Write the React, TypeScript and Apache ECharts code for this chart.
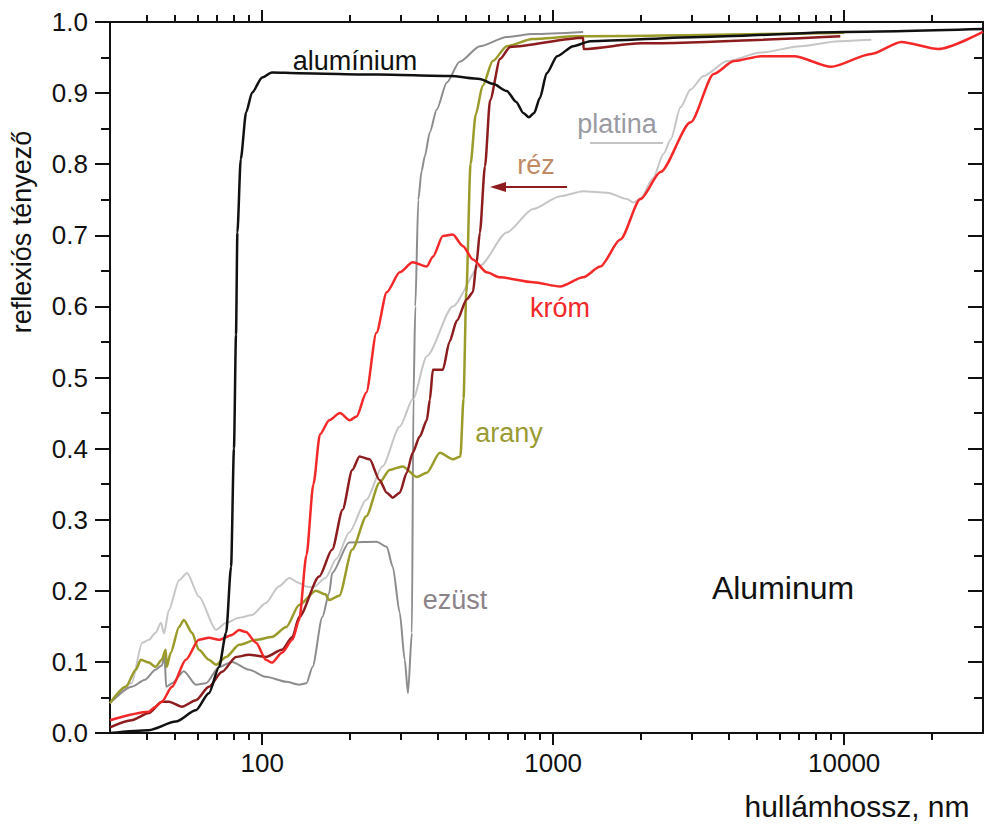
import React, { useEffect, useRef } from "react";
import * as echarts from "echarts";

// wavelength (nm), reflectance
const aluminium: [number, number][] = [
  [30, 0.0], [40.8, 0.004], [50.5, 0.016], [59.2, 0.032], [65.6, 0.056], [71.1, 0.093],
  [75.2, 0.141], [78.2, 0.234], [80, 0.4], [81.3, 0.56], [82.2, 0.704], [84.4, 0.807],
  [88.1, 0.873], [92.4, 0.901], [100, 0.922], [108, 0.929], [134, 0.928], [250, 0.926],
  [442, 0.924], [560, 0.92], [621, 0.913], [693, 0.903], [745, 0.888], [790, 0.872],
  [825, 0.866], [860, 0.872], [900, 0.893], [950, 0.928], [1032, 0.952], [1172, 0.966],
  [1342, 0.973], [3214, 0.979], [10000, 0.986], [30000, 0.99],
];

const ezust: [number, number][] = [
  [30, 0.042], [35.6, 0.065], [39.6, 0.075], [43, 0.089], [45.2, 0.095], [46.2, 0.107],
  [46.8, 0.065], [49, 0.07], [53.8, 0.087], [59.2, 0.068], [64.1, 0.07], [71.1, 0.093],
  [78.8, 0.1], [90.2, 0.089], [103, 0.079], [121, 0.072], [134, 0.068], [142, 0.07],
  [149, 0.093], [161, 0.163], [170, 0.197], [174, 0.225], [199, 0.268], [247, 0.269],
  [268, 0.262], [281, 0.234], [297, 0.169], [309, 0.103], [317, 0.056], [327, 0.141],
  [331, 0.47], [336, 0.6], [344, 0.75], [353, 0.79], [362, 0.811], [377, 0.845],
  [398, 0.877], [431, 0.915], [477, 0.944], [560, 0.966], [693, 0.979], [853, 0.983],
  [1268, 0.986],
];

const platina: [number, number][] = [
  [30, 0.042], [35.6, 0.07], [38.7, 0.127], [40.8, 0.131], [43, 0.141], [44.9, 0.155],
  [46, 0.14], [47.8, 0.173], [51.8, 0.215], [55.2, 0.225], [60.6, 0.192], [69.4, 0.145],
  [75.2, 0.155], [83.3, 0.162], [92.4, 0.166], [103, 0.183], [114, 0.206], [124, 0.218],
  [134, 0.211], [142, 0.206], [150, 0.205], [165, 0.218], [180, 0.245], [199, 0.282],
  [228, 0.328], [259, 0.375], [297, 0.431], [330, 0.47], [368, 0.53], [452, 0.6],
  [560, 0.657], [693, 0.704], [853, 0.737], [1057, 0.755], [1268, 0.762], [1534, 0.76],
  [1796, 0.751], [1884, 0.746], [2000, 0.752], [2200, 0.78], [2400, 0.815], [2536, 0.835],
  [2740, 0.88], [2967, 0.905], [3286, 0.924], [3964, 0.945], [5176, 0.957], [7080, 0.966],
  [9540, 0.973], [12400, 0.975],
];

const arany: [number, number][] = [
  [30, 0.042], [34, 0.065], [36.8, 0.089], [38.3, 0.103], [40.8, 0.099], [43, 0.093],
  [45.2, 0.103], [46.6, 0.117], [47, 0.093], [48.5, 0.113], [51.8, 0.149], [53.8, 0.159],
  [57.4, 0.141], [60.6, 0.117], [65.6, 0.103], [69.4, 0.096], [75.2, 0.107], [83.3, 0.124],
  [95.3, 0.131], [108, 0.135], [121, 0.149], [134, 0.18], [153, 0.2], [165, 0.195],
  [170, 0.187], [184, 0.193], [204, 0.258], [228, 0.305], [253, 0.352], [274, 0.37],
  [304, 0.375], [340, 0.36], [368, 0.366], [408, 0.394], [452, 0.385], [480, 0.389],
  [492, 0.47], [503, 0.62], [520, 0.8], [542, 0.87], [572, 0.91], [620, 0.945],
  [693, 0.966], [850, 0.976], [1200, 0.98], [10000, 0.985],
];

const rez: [number, number][] = [
  [30, 0.008], [35.6, 0.018], [40.8, 0.028], [45.2, 0.044], [47.8, 0.044], [53, 0.037],
  [59.2, 0.046], [65.6, 0.065], [72.8, 0.086], [81.3, 0.107], [90.2, 0.11], [103, 0.107],
  [117, 0.117], [127, 0.135], [134, 0.163], [157, 0.22], [174, 0.258], [189, 0.314],
  [204, 0.37], [216, 0.389], [234, 0.385], [253, 0.356], [268, 0.338], [281, 0.331],
  [297, 0.338], [314, 0.366], [329, 0.394], [348, 0.417], [368, 0.44], [377, 0.469],
  [386, 0.511], [418, 0.511], [440, 0.55], [467, 0.58], [505, 0.61], [530, 0.62],
  [545, 0.66], [560, 0.704], [583, 0.797], [607, 0.89], [657, 0.948], [711, 0.965],
  [1268, 0.978], [1272, 0.962], [2000, 0.97], [9700, 0.98],
];

const krom: [number, number][] = [
  [30, 0.018], [40.8, 0.03], [43, 0.037], [45.2, 0.044], [49, 0.065], [54.7, 0.103],
  [60.6, 0.131], [65.6, 0.134], [71.1, 0.131], [78.8, 0.138], [83.3, 0.145], [88, 0.142],
  [95.3, 0.127], [103, 0.103], [108, 0.099], [117, 0.113], [127, 0.131], [134, 0.159],
  [142, 0.25], [150, 0.35], [158, 0.42], [170, 0.44], [185, 0.45], [200, 0.44],
  [211, 0.445], [228, 0.479], [247, 0.563], [268, 0.62], [297, 0.648], [329, 0.662],
  [368, 0.656], [386, 0.67], [418, 0.699], [452, 0.701], [489, 0.685], [530, 0.666],
  [591, 0.648], [656, 0.641], [853, 0.634], [1057, 0.628], [1268, 0.641], [1452, 0.656],
  [1702, 0.694], [1995, 0.751], [2339, 0.789], [2967, 0.859], [3565, 0.927], [4178, 0.945],
  [5176, 0.952], [6729, 0.952], [9020, 0.937], [12390, 0.955], [15730, 0.972],
  [21090, 0.962], [30000, 0.986],
];

const xMajorTicks = [100, 1000, 10000];
const xMinorTicks = [
  40, 50, 60, 70, 80, 90, 200, 300, 400, 500, 600, 700, 800, 900,
  2000, 3000, 4000, 5000, 6000, 7000, 8000, 9000, 20000,
];

const FONT = "'Liberation Sans', Arial, sans-serif";
const AXIS = "#111111";

export default function App() {
  const ref = useRef<HTMLDivElement>(null);
  useEffect(() => {
    if (!ref.current) return;
    const chart = echarts.init(ref.current, undefined, { renderer: "svg" });
    const lineAxis = { show: true, lineStyle: { color: AXIS, width: 2 } };
    const baseX = {
      type: "log",
      logBase: 10,
      min: 30,
      max: 30000,
      gridIndex: 0,
      splitLine: { show: false },
      minorSplitLine: { show: false },
    };
    const mkLine = (data: [number, number][], color: string, width: number, z: number) => ({
      type: "line",
      data,
      xAxisIndex: 0,
      yAxisIndex: 0,
      showSymbol: false,
      symbol: "none",
      smooth: 0.25,
      smoothMonotone: "x",
      z,
      lineStyle: { color, width },
    });
    chart.setOption({
      animation: false,
      backgroundColor: "#ffffff",
      grid: { left: 110, right: 10, top: 22, bottom: 96, containLabel: false },
      xAxis: [
        {
          ...baseX,
          position: "bottom",
          axisLine: lineAxis,
          axisTick: { show: true, customValues: xMajorTicks, length: 12, lineStyle: { color: AXIS, width: 2 } },
          axisLabel: {
            show: true,
            customValues: xMajorTicks,
            formatter: (v: number) => String(Math.round(v)),
            fontSize: 26,
            color: AXIS,
            fontFamily: FONT,
            margin: 17,
          },
        },
        {
          ...baseX,
          position: "bottom",
          axisLine: { show: false },
          axisTick: { show: true, customValues: xMinorTicks, length: 7, lineStyle: { color: AXIS, width: 2 } },
          axisLabel: { show: false },
        },
        {
          ...baseX,
          position: "top",
          axisLine: lineAxis,
          axisTick: { show: true, customValues: xMajorTicks, length: 12, lineStyle: { color: AXIS, width: 2 } },
          axisLabel: { show: false },
        },
        {
          ...baseX,
          position: "top",
          axisLine: { show: false },
          axisTick: { show: true, customValues: xMinorTicks, length: 7, lineStyle: { color: AXIS, width: 2 } },
          axisLabel: { show: false },
        },
      ],
      yAxis: [
        {
          type: "value",
          min: 0,
          max: 1,
          interval: 0.1,
          position: "left",
          axisLine: lineAxis,
          axisTick: { show: true, length: 15, lineStyle: { color: AXIS, width: 2 } },
          minorTick: { show: true, splitNumber: 2, length: 9, lineStyle: { color: AXIS, width: 2 } },
          axisLabel: {
            formatter: (v: number) => v.toFixed(1),
            fontSize: 26,
            color: AXIS,
            fontFamily: FONT,
            margin: 22,
          },
          splitLine: { show: false },
        },
        {
          type: "value",
          min: 0,
          max: 1,
          interval: 0.1,
          position: "right",
          axisLine: lineAxis,
          axisTick: { show: true, inside: true, length: 15, lineStyle: { color: AXIS, width: 2 } },
          minorTick: { show: true, splitNumber: 2, length: 9, lineStyle: { color: AXIS, width: 2 } },
          axisLabel: { show: false },
          splitLine: { show: false },
        },
      ],
      series: [
        mkLine(platina, "#c6c6c8", 2, 2),
        mkLine(ezust, "#8e8c8e", 2, 3),
        mkLine(arany, "#9a9b2a", 2.5, 4),
        mkLine(rez, "#8c1c1e", 2.5, 5),
        mkLine(krom, "#f42828", 2.5, 6),
        mkLine(aluminium, "#111111", 2.5, 7),
      ],
      graphic: [
        { type: "text", x: 355, y: 61, style: { text: "alumínium", fontSize: 27, fontFamily: FONT, fill: "#111111", align: "center", verticalAlign: "middle" } },
        { type: "text", x: 617, y: 124, style: { text: "platina", fontSize: 27, fontFamily: FONT, fill: "#9a9aa2", align: "center", verticalAlign: "middle" } },
        { type: "line", shape: { x1: 590, y1: 143, x2: 663, y2: 143 }, style: { stroke: "#c4c4c6", lineWidth: 2 } },
        { type: "text", x: 536, y: 165, style: { text: "réz", fontSize: 27, fontFamily: FONT, fill: "#c08a64", align: "center", verticalAlign: "middle" } },
        { type: "line", shape: { x1: 504, y1: 187, x2: 567, y2: 187 }, style: { stroke: "#8c1c1e", lineWidth: 2 } },
        { type: "polygon", shape: { points: [[490, 187], [506, 182], [506, 192]] }, style: { fill: "#8c1c1e" } },
        { type: "text", x: 560, y: 308, style: { text: "króm", fontSize: 27, fontFamily: FONT, fill: "#f42828", align: "center", verticalAlign: "middle" } },
        { type: "text", x: 509, y: 433, style: { text: "arany", fontSize: 27, fontFamily: FONT, fill: "#9b9b33", align: "center", verticalAlign: "middle" } },
        { type: "text", x: 455, y: 600, style: { text: "ezüst", fontSize: 27, fontFamily: FONT, fill: "#8c8289", align: "center", verticalAlign: "middle" } },
        { type: "text", x: 783, y: 588, style: { text: "Aluminum", fontSize: 32, fontFamily: FONT, fill: "#111111", align: "center", verticalAlign: "middle" } },
        { type: "text", x: 22, y: 232, rotation: Math.PI / 2, style: { text: "reflexiós tényező", fontSize: 27, fontFamily: FONT, fill: "#111111", align: "center", verticalAlign: "middle" } },
        { type: "text", x: 857, y: 806, style: { text: "hullámhossz, nm", fontSize: 30, fontFamily: FONT, fill: "#111111", align: "center", verticalAlign: "middle" } },
      ],
    });
    return () => chart.dispose();
  }, []);
  return (
    <div
      ref={ref}
      style={{ position: "fixed", left: 0, top: 0, width: 993, height: 829, background: "#fff" }}
    />
  );
}
